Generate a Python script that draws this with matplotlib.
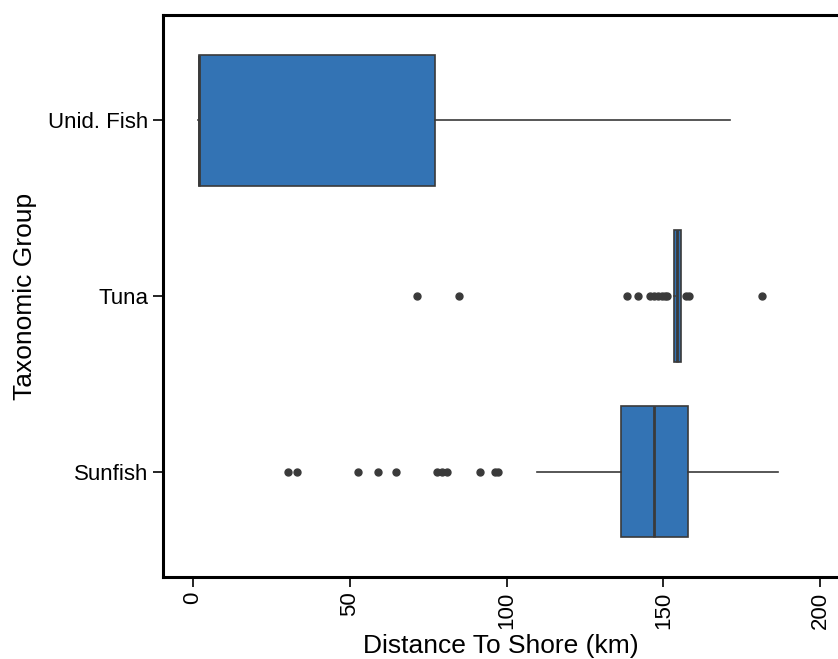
import matplotlib.pyplot as plt

plt.rcParams["font.family"] = ["Liberation Sans", "DejaVu Sans"]

# values (km)
groups = ["Unid. Fish", "Tuna", "Sunfish"]
whislo = [1.5, 153.6, 109.6]
q1 = [2.0, 153.4, 136.5]
med = [2.0, 154.5, 147.0]
q3 = [77.2, 155.6, 157.8]
whishi = [171.3, 155.6, 186.7]
fliers = [
    [],
    [71.5, 84.8, 138.5, 141.8, 145.8, 147.0, 148.2, 149.5, 150.5, 151.1, 157.3, 158.2, 181.6],
    [30.2, 33.1, 52.7, 59.0, 64.8, 77.7, 79.3, 81.1, 91.5, 96.3, 97.4],
]

BOX_COLOR = "#3373B4"
LINE_COLOR = "#3a3a3a"

stats = []
for i, name in enumerate(groups):
    stats.append({
        "label": name,
        "whislo": whislo[i],
        "q1": q1[i],
        "med": med[i],
        "q3": q3[i],
        "whishi": whishi[i],
        "fliers": fliers[i],
    })

fig = plt.figure(figsize=(8.38, 6.59), dpi=100)
ax = fig.add_axes([163 / 838, 1 - 577 / 659, 1 - 163 / 838, (577 - 15) / 659])

ax.bxp(
    stats,
    positions=range(len(groups)),
    vert=False,
    widths=0.75,
    patch_artist=True,
    showcaps=False,
    boxprops=dict(facecolor=BOX_COLOR, edgecolor=LINE_COLOR, linewidth=1.2),
    medianprops=dict(color=LINE_COLOR, linewidth=2.0),
    whiskerprops=dict(color=LINE_COLOR, linewidth=1.2),
    flierprops=dict(marker="o", markerfacecolor=LINE_COLOR, markeredgecolor=LINE_COLOR,
                    markersize=5),
)

ax.set_xlim(-9.6, 205.7)
ax.set_ylim(2.6, -0.6)
ax.set_xticks([0, 50, 100, 150, 200])
ax.set_yticks(range(len(groups)))
ax.set_yticklabels(groups)
ax.tick_params(axis="x", labelrotation=90, labelsize=16, length=7, width=1.2)
ax.tick_params(axis="y", labelsize=16, length=7, width=1.2)
ax.set_xlabel("Distance To Shore (km)", fontsize=19, labelpad=4)
ax.set_ylabel("Taxonomic Group", fontsize=19, labelpad=8)
for side in ["left", "top", "bottom"]:
    ax.spines[side].set_linewidth(2.2)
ax.spines["right"].set_visible(False)

fig.savefig("out.png", dpi=100)
